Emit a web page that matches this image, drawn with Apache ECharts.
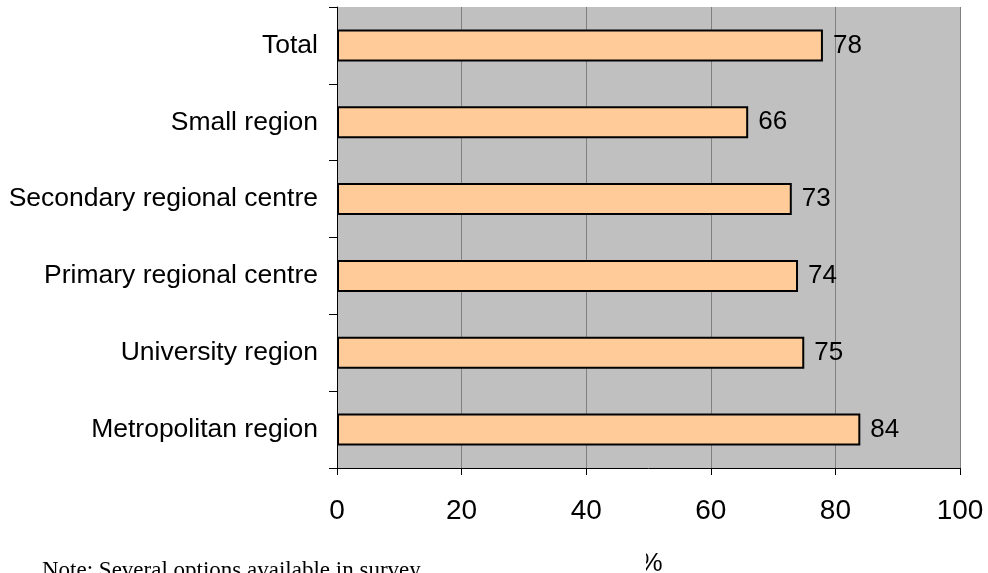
<!DOCTYPE html>
<html>
<head>
<meta charset="utf-8">
<script src="https://cdn.jsdelivr.net/npm/echarts@6/dist/echarts.min.js"></script>
<style>
  html, body { margin: 0; padding: 0; background: #fff; }
  #chart { width: 988px; height: 573px; }
</style>
</head>
<body>
<div id="chart"></div>
<script>
// Region types, listed from the bottom of the axis to the top
const categories = [
  'Metropolitan region',
  'University region',
  'Primary regional centre',
  'Secondary regional centre',
  'Small region',
  'Total'
];
// Share of respondents, in percent
const shares = [84, 75, 74, 73, 66, 78];
// Value axis ticks
const xTicks = [0, 20, 40, 60, 80, 100];

const chart = echarts.init(document.getElementById('chart'), null, { renderer: 'canvas' });

chart.setOption({
  animation: false,
  grid: {
    left: 337, right: 28, top: 7, bottom: 105,
    outerBoundsMode: 'none',
    containLabel: false,
    show: true, backgroundColor: '#C0C0C0', borderWidth: 0
  },
  xAxis: {
    type: 'value',
    min: xTicks[0], max: xTicks[xTicks.length - 1], interval: 20,
    name: '%',
    nameLocation: 'middle',
    nameGap: 83,
    nameTextStyle: { fontFamily: 'Liberation Sans, Arial', fontSize: 26, color: '#000', padding: [0, 0, 0, 5] },
    axisLine: { show: true, lineStyle: { color: '#000', width: 1 } },
    axisTick: { show: true, length: 7, lineStyle: { color: '#000' } },
    axisLabel: {
      fontFamily: 'Liberation Sans, Arial', fontSize: 28, color: '#000', margin: 29
    },
    splitLine: { show: true, lineStyle: { color: '#808080', width: 1 } }
  },
  yAxis: {
    type: 'category',
    data: categories,
    axisLine: { show: true, lineStyle: { color: '#000', width: 1 } },
    axisTick: { show: true, length: 8, alignWithLabel: false, lineStyle: { color: '#000' } },
    axisLabel: {
      fontFamily: 'Liberation Sans, Arial', fontSize: 26.5, color: '#000', margin: 19
    },
    splitLine: { show: false }
  },
  series: [{
    type: 'bar',
    data: shares,
    barWidth: 32,
    itemStyle: { color: '#FFCC99', borderColor: '#000', borderWidth: 2 },
    label: {
      show: true, position: 'right', distance: 10,
      fontFamily: 'Liberation Sans, Arial', fontSize: 26, color: '#000'
    }
  }],
  graphic: [
    {
      // white note box, laid over the lower left of the page
      type: 'rect',
      z: 50,
      shape: { x: 0, y: 541, width: 646, height: 32 },
      style: { fill: '#fff' }
    },
    {
      type: 'text',
      z: 51,
      left: 42, top: 559,
      style: {
        text: 'Note: Several options available in survey',
        font: '23px "Liberation Serif", "Times New Roman", serif',
        fill: '#000'
      }
    }
  ]
});
</script>
</body>
</html>
